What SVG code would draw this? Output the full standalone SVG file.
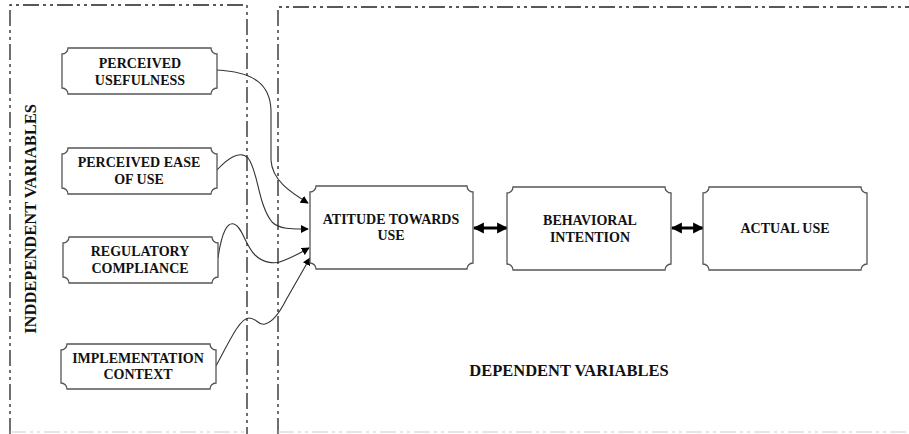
<svg xmlns="http://www.w3.org/2000/svg" width="909" height="434" viewBox="0 0 909 434">
<style>
.frame{fill:none;stroke:#222;stroke-width:1.3;stroke-dasharray:16 4 3 4 3 4}
.faint{fill:none;stroke:#ccc;stroke-width:1;stroke-dasharray:16 4 3 4 3 4}
.node{fill:#fff;stroke:#555;stroke-width:1.3}
.lbl{font-family:"Liberation Serif","Times New Roman",serif;font-weight:bold;font-size:14px;fill:#111;text-anchor:middle}
.big{font-family:"Liberation Serif","Times New Roman",serif;font-weight:bold;font-size:16.5px;fill:#111;text-anchor:middle}
.conn{fill:none;stroke:#333;stroke-width:1.1}
.thick{fill:none;stroke:#000;stroke-width:3}
</style>
<defs>
<marker id="ah" viewBox="0 0 10 10" refX="9" refY="5" markerWidth="8" markerHeight="8" markerUnits="userSpaceOnUse" orient="auto">
<path d="M0,0 L10,5 L0,10 Z" fill="#000"/>
</marker>
<marker id="big" viewBox="0 0 10 10" refX="9" refY="5" markerWidth="11" markerHeight="13" markerUnits="userSpaceOnUse" orient="auto-start-reverse">
<path d="M0,0 L10,5 L0,10 Z" fill="#000"/>
</marker>
</defs>
<rect width="909" height="434" fill="#fff"/>
<g id="frames">
<path class="frame" d="M10,434 V5 H247 V434"/>
<path class="frame" d="M278,434 V7 H909"/>
<path class="faint" d="M10,432 H247 M278,432 H909"/>
</g>
<text class="big" transform="translate(36,219) rotate(-90)">INDDEPENDENT VARIABLES</text>
<text class="big" x="569" y="376">DEPENDENT VARIABLES</text>
<g id="connectors">
<path class="conn" marker-end="url(#ah)" d="M217,70 C255,72 270,85 271,110 L271,160 C272,180 290,192 308,203"/>
<path class="conn" marker-end="url(#ah)" d="M217,170 C228,158 240,150 248,158 C258,170 258,205 272,222 C280,230 295,229 308,229"/>
<path class="conn" marker-end="url(#ah)" d="M218,258 C222,230 228,222 234,224 C242,226 245,245 255,255 C263,263 275,265 285,260 C295,256 302,252 309,248"/>
<path class="conn" marker-end="url(#ah)" d="M216,366 C230,340 240,318 249,318 C257,318 258,326 265,324 C273,322 280,312 286,300 L310,258"/>
<path class="thick" marker-start="url(#big)" marker-end="url(#big)" d="M474,228 H507"/>
<path class="thick" marker-start="url(#big)" marker-end="url(#big)" d="M672,228 H703"/>
</g>
<g id="pu">
<path class="node" d="M68,48 H211 A6,6 0 0 0 217,54 V88 A6,6 0 0 0 211,94 H68 A6,6 0 0 0 62,88 V54 A6,6 0 0 0 68,48 Z"/>
<text class="lbl" x="140" y="68">PERCEIVED</text>
<text class="lbl" x="140" y="85">USEFULNESS</text>
</g>
<g id="peou">
<path class="node" d="M68,148 H211 A6,6 0 0 0 217,154 V188 A6,6 0 0 0 211,194 H68 A6,6 0 0 0 62,188 V154 A6,6 0 0 0 68,148 Z"/>
<text class="lbl" x="139" y="167">PERCEIVED EASE</text>
<text class="lbl" x="139" y="184">OF USE</text>
</g>
<g id="rc">
<path class="node" d="M69,237 H212 A6,6 0 0 0 218,243 V277 A6,6 0 0 0 212,283 H69 A6,6 0 0 0 63,277 V243 A6,6 0 0 0 69,237 Z"/>
<text class="lbl" x="140" y="256">REGULATORY</text>
<text class="lbl" x="140" y="273">COMPLIANCE</text>
</g>
<g id="ic">
<path class="node" d="M67,344 H210 A6,6 0 0 0 216,350 V383 A6,6 0 0 0 210,389 H67 A6,6 0 0 0 61,383 V350 A6,6 0 0 0 67,344 Z"/>
<text class="lbl" x="138" y="363">IMPLEMENTATION</text>
<text class="lbl" x="138" y="379">CONTEXT</text>
</g>
<g id="atu">
<path class="node" d="M316,186 H467 A6,6 0 0 0 473,192 V263 A6,6 0 0 0 467,269 H316 A6,6 0 0 0 310,263 V192 A6,6 0 0 0 316,186 Z"/>
<text class="lbl" x="391" y="224">ATITUDE TOWARDS</text>
<text class="lbl" x="391" y="240">USE</text>
</g>
<g id="bi">
<path class="node" d="M513,187 H665 A6,6 0 0 0 671,193 V264 A6,6 0 0 0 665,270 H513 A6,6 0 0 0 507,264 V193 A6,6 0 0 0 513,187 Z"/>
<text class="lbl" x="590" y="225">BEHAVIORAL</text>
<text class="lbl" x="590" y="242">INTENTION</text>
</g>
<g id="au">
<path class="node" d="M709,187 H861 A6,6 0 0 0 867,193 V264 A6,6 0 0 0 861,270 H709 A6,6 0 0 0 703,264 V193 A6,6 0 0 0 709,187 Z"/>
<text class="lbl" x="785" y="233">ACTUAL USE</text>
</g>
</svg>
